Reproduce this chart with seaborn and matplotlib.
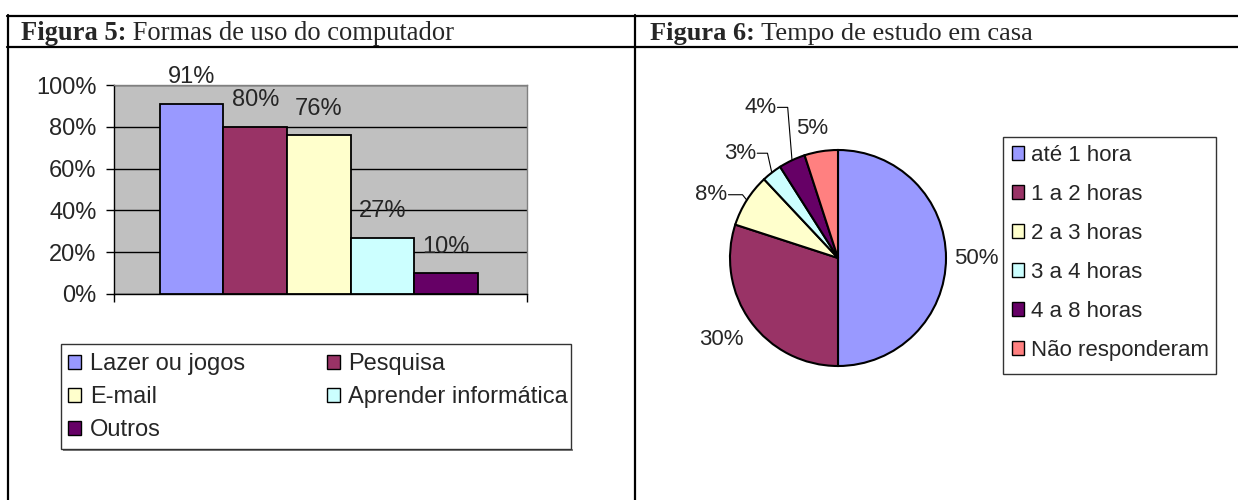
import numpy as np
import matplotlib
matplotlib.use("Agg")
import matplotlib.pyplot as plt
import seaborn as sns
import pandas as pd
from matplotlib.patches import Patch, Rectangle
from matplotlib.lines import Line2D

# ---------------- data ----------------
uso_categorias = ["Lazer ou jogos", "Pesquisa", "E-mail", "Aprender informática", "Outros"]
uso_valores = [91, 80, 76, 27, 10]
uso_cores = ["#9999FF", "#993366", "#FFFFCC", "#CCFFFF", "#660066"]
y_ticks = [0, 20, 40, 60, 80, 100]
y_tick_labels = ["0%", "20%", "40%", "60%", "80%", "100%"]

tempo_categorias = ["até 1 hora", "1 a 2 horas", "2 a 3 horas", "3 a 4 horas",
                    "4 a 8 horas", "Não responderam"]
tempo_valores = [50, 30, 8, 3, 4, 5]
tempo_cores = ["#9999FF", "#993366", "#FFFFCC", "#CCFFFF", "#660066", "#FF8080"]

titulo5_negrito = "Figura 5:"
titulo5 = " Formas de uso do computador"
titulo6_negrito = "Figura 6:"
titulo6 = " Tempo de estudo em casa"

# ---------------- layout helpers ----------------
W, H = 1238, 500
sns.set_theme(style="white")
plt.rcParams["font.family"] = ["Liberation Sans", "DejaVu Sans"]

fig = plt.figure(figsize=(W / 100, H / 100), dpi=100)
fig.patch.set_facecolor("white")


def fx(px):
    return px / W


def fy(py):
    return 1 - py / H


# table borders
for yy in (15.5, 47):
    fig.add_artist(Line2D([fx(7), 1], [fy(yy), fy(yy)], color="black", lw=1.6))
for xx in (8, 635):
    fig.add_artist(Line2D([fx(xx), fx(xx)], [fy(15), 0], color="black", lw=1.6))

# titles
serif = ["Liberation Serif", "DejaVu Serif"]
fig.canvas.draw()
renderer = fig.canvas.get_renderer()
for x0, tb, tr, fs in ((21, titulo5_negrito, titulo5, 19.1),
                       (650, titulo6_negrito, titulo6, 19.0)):
    t1 = fig.text(fx(x0), fy(40), tb, fontsize=fs, fontweight="bold",
                  family=serif, va="baseline", ha="left")
    bb = t1.get_window_extent(renderer=renderer)
    fig.text(bb.x1 / W, fy(40), tr, fontsize=fs, family=serif,
             va="baseline", ha="left")

# ---------------- bar chart ----------------
ax = fig.add_axes([fx(114), fy(294), fx(527) - fx(114), fy(85) - fy(294)])
df = pd.DataFrame({"cat": uso_categorias, "val": uso_valores})
sns.barplot(data=df, x="cat", y="val", hue="cat", palette=uso_cores,
            saturation=1, dodge=False, width=1.0, edgecolor="black",
            linewidth=1.3, legend=False, ax=ax, zorder=3)
ax.set_facecolor("#C0C0C0")
ax.set_xlim(-1.22, 5.27)
ax.set_ylim(0, 100)
ax.set_axisbelow(True)
ax.yaxis.grid(True, color="black", lw=1.0)
ax.xaxis.grid(False)
for s in ("top", "right"):
    ax.spines[s].set_color("#808080")
    ax.spines[s].set_linewidth(1.0)
for s in ("left", "bottom"):
    ax.spines[s].set_color("black")
    ax.spines[s].set_linewidth(1.0)
ax.set_yticks(y_ticks, y_tick_labels)
ax.set_xticks(list(ax.get_xlim()), ["", ""])
ax.tick_params(axis="y", direction="out", length=6, width=1, color="black",
               labelsize=17, pad=6.5, left=True)
ax.tick_params(axis="x", direction="out", length=6, width=1, color="black",
               bottom=True)
ax.set_xlabel("")
ax.set_ylabel("")
for bar in ax.patches:
    cx = bar.get_x() + bar.get_width() / 2
    h = bar.get_height()
    ax.annotate(f"{h:.0f}%", (cx, h), xytext=(0, 19), textcoords="offset points",
                ha="center", va="center", fontsize=17, annotation_clip=False)

# left legend box + legend
fig.add_artist(Rectangle((fx(63), fy(451)), fx(573) - fx(63), fy(449) - fy(451),
                         transform=fig.transFigure, facecolor="#808080",
                         edgecolor="none"))
fig.add_artist(Rectangle((fx(61), fy(449)), fx(571) - fx(61), fy(344) - fy(449),
                         transform=fig.transFigure, facecolor="white",
                         edgecolor="#333333", lw=1.0))
handles = [Patch(facecolor=c, edgecolor="black", lw=1.0) for c in uso_cores]
order = [0, 2, 4, 1, 3]
fig.legend([handles[i] for i in order], [uso_categorias[i] for i in order],
           ncol=2, loc="upper left", bbox_to_anchor=(fx(68), fy(353)),
           frameon=False, fontsize=17, handlelength=0.55, handleheight=0.55,
           handletextpad=0.38, labelspacing=0.47, columnspacing=3.45,
           borderpad=0, borderaxespad=0)

# ---------------- pie chart ----------------
R_PX = 108
half = 150
axp = fig.add_axes([fx(838 - half), fy(258 + half), 2 * half / W, 2 * half / H])
wedges, _ = axp.pie(tempo_valores, colors=tempo_cores, startangle=90,
                    counterclock=False, radius=1.0,
                    wedgeprops=dict(edgecolor="black", linewidth=1.5))
lim = half / R_PX
axp.set_xlim(-lim, lim)
axp.set_ylim(-lim, lim)
axp.set_aspect("equal")
axp.axis("off")

# label styles: ("r", radius, angle offset) or ("leader", lift, horiz)
label_style = [("r", 1.28, 0), ("r", 1.32, -1), ("leader", 0.05, 0.13),
               ("leader", 0.18, 0.095), ("leader", 0.49, 0.095), ("r", 1.22, 2.2)]
total = sum(tempo_valores)
for w, v, st in zip(wedges, tempo_valores, label_style):
    mid = np.deg2rad((w.theta1 + w.theta2) / 2)
    txt = f"{100 * v / total:.0f}%"
    if st[0] == "r":
        ang = mid + np.deg2rad(st[2])
        axp.text(st[1] * np.cos(ang), st[1] * np.sin(ang), txt, ha="center",
                 va="center", fontsize=16, clip_on=False)
    else:
        wx, wy = np.cos(mid), np.sin(mid)
        ex, ey = wx - 0.04, wy + st[1]
        tx = ex - st[2]
        axp.plot([wx, ex, tx], [wy, ey, ey], color="black", lw=0.8,
                 clip_on=False)
        axp.text(tx - 0.01, ey, txt, ha="right", va="center", fontsize=16,
                 clip_on=False)

# right legend
fig.add_artist(Rectangle((fx(1003), fy(374)), fx(1216) - fx(1003), fy(137) - fy(374),
                         transform=fig.transFigure, facecolor="white",
                         edgecolor="#333333", lw=1.0))
handles6 = [Patch(facecolor=c, edgecolor="black", lw=1.0) for c in tempo_cores]
fig.legend(handles6, tempo_categorias, loc="upper left",
           bbox_to_anchor=(fx(1012), fy(145)), frameon=False, fontsize=16,
           handlelength=0.55, handleheight=0.55, handletextpad=0.3,
           labelspacing=0.81, borderpad=0, borderaxespad=0)

fig.savefig("out.png", dpi=100)
